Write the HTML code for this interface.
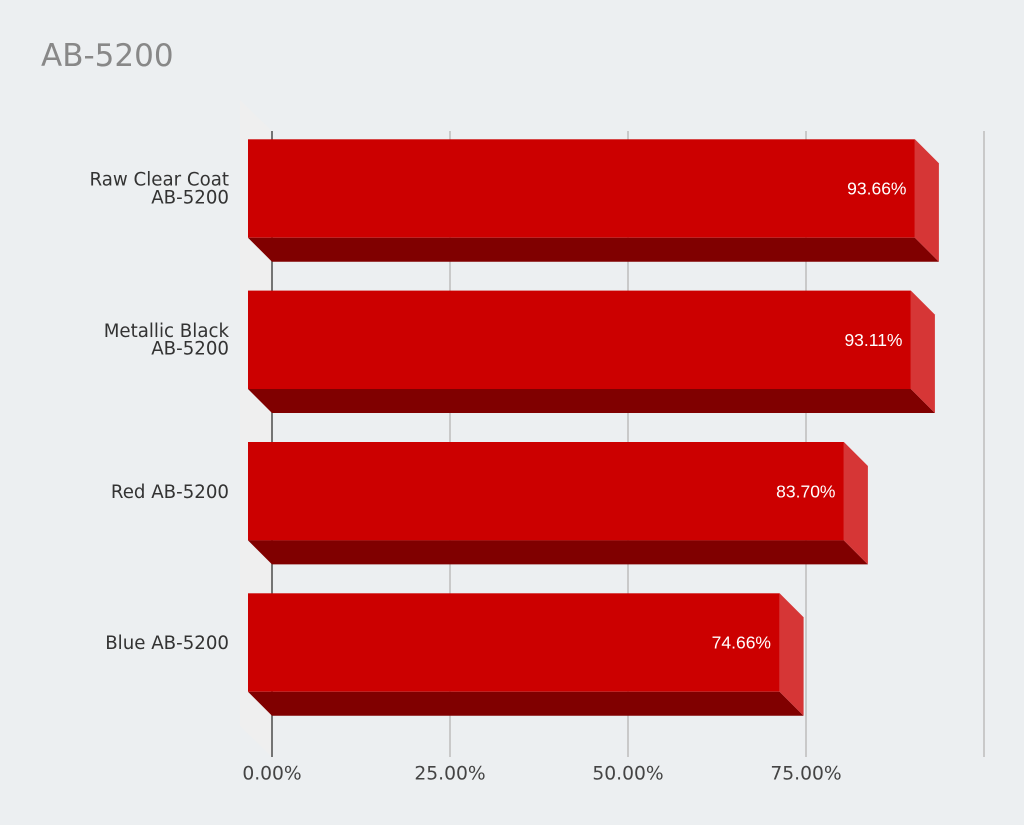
<!DOCTYPE html>
<html>
<head>
<meta charset="utf-8">
<style>
html,body{margin:0;padding:0;background:#eceff1;}
svg{display:block;}
</style>
</head>
<body>
<svg width="1024" height="825" viewBox="0 0 1024 825" xmlns="http://www.w3.org/2000/svg">
<rect x="0" y="0" width="1024" height="825" fill="#eceff1"/>
<text x="41" y="66" font-family="DejaVu Sans, sans-serif" font-size="31" fill="#888888">AB-5200</text>

<!-- left wall -->
<polygon points="240,100 272,131 272,757 240,726" fill="#efefef"/>

<!-- gridlines -->
<g stroke="#c9c9c9" stroke-width="2">
<line x1="450" y1="131" x2="450" y2="757"/>
<line x1="628" y1="131" x2="628" y2="757"/>
<line x1="806" y1="131" x2="806" y2="757"/>
<line x1="984" y1="131" x2="984" y2="757"/>
</g>
<line x1="272" y1="131" x2="272" y2="757" stroke="#555555" stroke-width="1.6"/>

<!-- bar 1 -->
<g>
<rect x="248" y="139.3" width="666.9" height="98.4" fill="#cc0000"/>
<polygon points="248,237.7 914.9,237.7 938.9,261.7 272,261.7" fill="#800000"/>
<polygon points="914.9,139.3 938.9,163.3 938.9,261.7 914.9,237.7" fill="#d63636"/>
</g>
<!-- bar 2 -->
<g>
<rect x="248" y="290.6" width="662.9" height="98.4" fill="#cc0000"/>
<polygon points="248,389 910.9,389 934.9,413 272,413" fill="#800000"/>
<polygon points="910.9,290.6 934.9,314.6 934.9,413 910.9,389" fill="#d63636"/>
</g>
<!-- bar 3 -->
<g>
<rect x="248" y="442" width="595.9" height="98.4" fill="#cc0000"/>
<polygon points="248,540.4 843.9,540.4 867.9,564.4 272,564.4" fill="#800000"/>
<polygon points="843.9,442 867.9,466 867.9,564.4 843.9,540.4" fill="#d63636"/>
</g>
<!-- bar 4 -->
<g>
<rect x="248" y="593.3" width="531.6" height="98.4" fill="#cc0000"/>
<polygon points="248,691.7 779.6,691.7 803.6,715.7 272,715.7" fill="#800000"/>
<polygon points="779.6,593.3 803.6,617.3 803.6,715.7 779.6,691.7" fill="#d63636"/>
</g>

<!-- value labels -->
<g font-family="Liberation Sans, Arial, sans-serif" font-size="17.5" fill="#ffffff" text-anchor="end">
<text x="906.5" y="194.5">93.66%</text>
<text x="902.5" y="345.9">93.11%</text>
<text x="835.5" y="497.3">83.70%</text>
<text x="771" y="648.6">74.66%</text>
</g>

<!-- category labels -->
<g font-family="DejaVu Sans, sans-serif" font-size="18.2" fill="#333333" text-anchor="end">
<text x="229" y="185.7">Raw Clear Coat</text>
<text x="229" y="203.3">AB-5200</text>
<text x="229" y="337.1">Metallic Black</text>
<text x="229" y="354.7">AB-5200</text>
<text x="229" y="497.8">Red AB-5200</text>
<text x="229" y="649.1">Blue AB-5200</text>
</g>

<!-- tick labels -->
<g font-family="DejaVu Sans, sans-serif" font-size="18.7" fill="#444444" text-anchor="middle">
<text x="272" y="779.5">0.00%</text>
<text x="450" y="779.5">25.00%</text>
<text x="628" y="779.5">50.00%</text>
<text x="806" y="779.5">75.00%</text>
</g>
</svg>
</body>
</html>
